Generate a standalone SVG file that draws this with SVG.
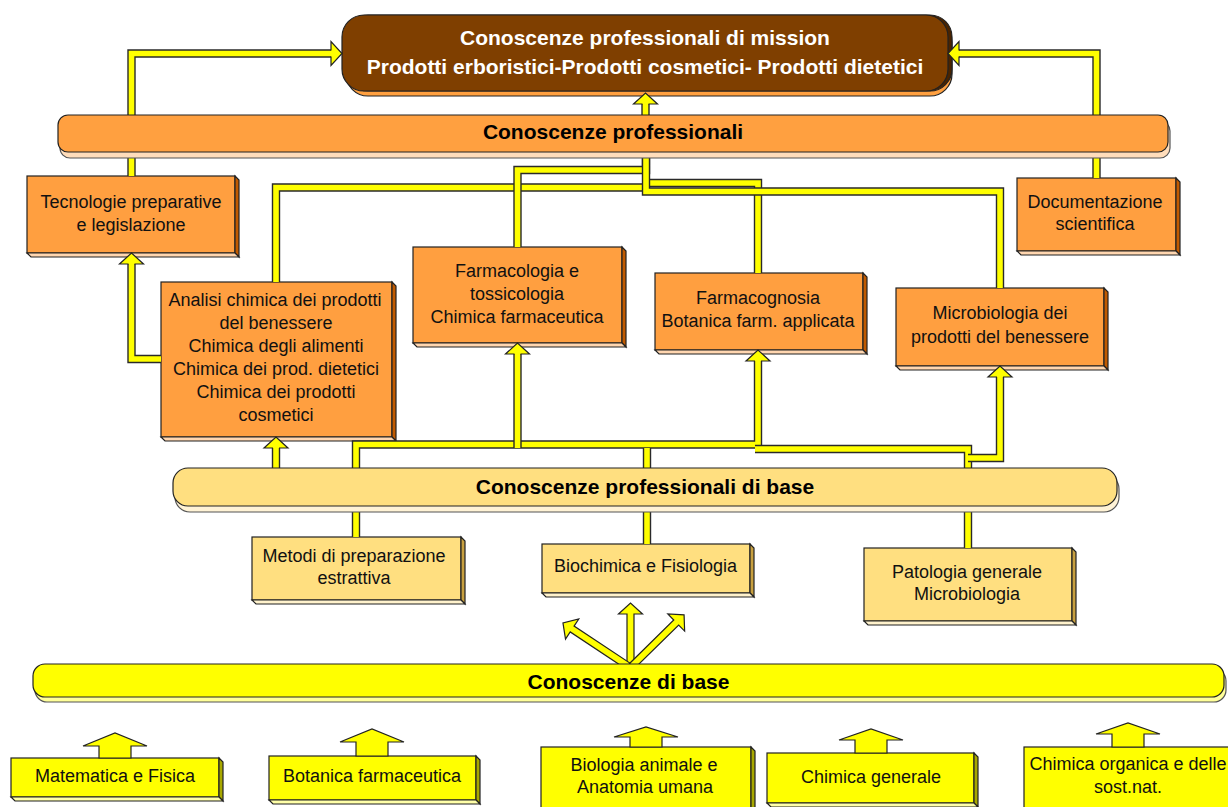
<svg xmlns="http://www.w3.org/2000/svg" width="1228" height="807" viewBox="0 0 1228 807">
<style>
.t{font-family:"Liberation Sans",Arial,sans-serif;font-size:18px;fill:#111;text-anchor:middle}
.tb{font-family:"Liberation Sans",Arial,sans-serif;font-size:21px;font-weight:bold;fill:#000;text-anchor:middle}
.tw{font-family:"Liberation Sans",Arial,sans-serif;font-size:21px;font-weight:bold;fill:#fff;text-anchor:middle}
.s{stroke:#222;stroke-width:1.2}
.of{fill:#FF9F40}.os{fill:#C05A00}.ob{fill:#FFD6B0}
.lf{fill:#FFDF80}.ls{fill:#C8A040}.lb{fill:#FFF2CC}
.yf{fill:#FFFF00}.ys{fill:#A8A800}.yb{fill:#FFFFA8}
.po{fill:none;stroke:#2a2a2a;stroke-width:8.4}
.pi{fill:none;stroke:#FFFF00;stroke-width:5.6}
.hd{fill:#FFFF00;stroke:#222;stroke-width:1.2}
</style>
<defs>
<path id="hu" d="M-3,11 H-12 L0,0 L12,11 H3"/>
<path id="c1" d="M131.5,176 V53.5 H331"/>
<path id="c2" d="M1096.5,178 V53.5 H959"/>
<path id="c3" d="M645.5,115 V104"/>
<path id="c5" d="M276,282 V187.5 H646"/>
<path id="c4" d="M517.5,247 V170 H646 V150"/>
<path id="c6" d="M646,183 H758 V273"/>
<path id="c7" d="M646,150 V191.5 H1000 V288"/>
<path id="c8" d="M161,359 H131.5 V264"/>
<path id="c9" d="M276,468 V448"/>
<path id="l1" d="M356,537 V444.5 H758 V361"/>
<path id="l2" d="M517.5,448 V354"/>
<path id="l3" d="M647,544 V448"/>
<path id="l4" d="M968,548 V449 H755"/>
<path id="l5" d="M968,458 H1000 V377"/>
</defs>

<!-- nodes -->
<g id="n-mission">
<rect x="346" y="20" width="606" height="76" rx="22" fill="#FFA040" class="s"/>
<rect x="346" y="15" width="606" height="76" rx="22" fill="#4A2400" class="s"/>
<rect x="342" y="15" width="606" height="76" rx="22" fill="#7F3F00" class="s"/>
<text class="tw" x="645" y="44.5">Conoscenze professionali di mission</text>
<text class="tw" x="645" y="73.5">Prodotti erboristici-Prodotti cosmetici- Prodotti dietetici</text>
</g>

<g id="n-tecnologie">
<rect class="of s" x="27" y="176" width="208" height="77"/>
<polygon class="os s" points="235,176 239,180 239,257 235,253"/>
<polygon class="ob s" points="27,253 235,253 239,257 31,257"/>
<text class="t" x="131" y="208">Tecnologie preparative</text>
<text class="t" x="131" y="231">e legislazione</text>
</g>

<g id="n-analisi">
<rect class="of s" x="161" y="282" width="231" height="155"/>
<polygon class="os s" points="392,282 396,286 396,441 392,437"/>
<polygon class="ob s" points="161,437 392,437 396,441 165,441"/>
<text class="t" x="275" y="305.5">Analisi chimica dei prodotti</text>
<text class="t" x="276" y="328.5">del benessere</text>
<text class="t" x="276" y="352">Chimica degli alimenti</text>
<text class="t" x="276" y="375">Chimica dei prod. dietetici</text>
<text class="t" x="276" y="398">Chimica dei prodotti</text>
<text class="t" x="276" y="421">cosmetici</text>
</g>

<g id="n-farmacologia">
<rect class="of s" x="413" y="247" width="209" height="96"/>
<polygon class="os s" points="622,247 626,251 626,347 622,343"/>
<polygon class="ob s" points="413,343 622,343 626,347 417,347"/>
<text class="t" x="517" y="277">Farmacologia e</text>
<text class="t" x="517" y="300">tossicologia</text>
<text class="t" x="517" y="323">Chimica farmaceutica</text>
</g>

<g id="n-farmacognosia">
<rect class="of s" x="655" y="273" width="208" height="77"/>
<polygon class="os s" points="863,273 867,277 867,354 863,350"/>
<polygon class="ob s" points="655,350 863,350 867,354 659,354"/>
<text class="t" x="758" y="304">Farmacognosia</text>
<text class="t" x="758" y="327">Botanica farm. applicata</text>
</g>

<g id="n-microbiologia">
<rect class="of s" x="896" y="288" width="208" height="78"/>
<polygon class="os s" points="1104,288 1108,292 1108,370 1104,366"/>
<polygon class="ob s" points="896,366 1104,366 1108,370 900,370"/>
<text class="t" x="1000" y="319">Microbiologia dei</text>
<text class="t" x="1000" y="343">prodotti del benessere</text>
</g>

<g id="n-documentazione">
<rect class="of s" x="1017" y="178" width="159" height="73"/>
<polygon class="os s" points="1176,178 1180,182 1180,255 1176,251"/>
<polygon class="ob s" points="1017,251 1176,251 1180,255 1021,255"/>
<text class="t" x="1095" y="208">Documentazione</text>
<text class="t" x="1095" y="230">scientifica</text>
</g>

<g id="n-metodi">
<rect class="lf s" x="252" y="537" width="209" height="63"/>
<polygon class="ls s" points="461,537 465,541 465,604 461,600"/>
<polygon class="lb s" points="252,600 461,600 465,604 256,604"/>
<text class="t" x="354" y="562">Metodi di preparazione</text>
<text class="t" x="354" y="584">estrattiva</text>
</g>

<g id="n-biochimica">
<rect class="lf s" x="542" y="544" width="208" height="49"/>
<polygon class="ls s" points="750,544 754,548 754,597 750,593"/>
<polygon class="lb s" points="542,593 750,593 754,597 546,597"/>
<text class="t" x="645.5" y="572">Biochimica e Fisiologia</text>
</g>

<g id="n-patologia">
<rect class="lf s" x="864" y="548" width="208" height="73"/>
<polygon class="ls s" points="1072,548 1076,552 1076,625 1072,621"/>
<polygon class="lb s" points="864,621 1072,621 1076,625 868,625"/>
<text class="t" x="967" y="578">Patologia generale</text>
<text class="t" x="967" y="600">Microbiologia</text>
</g>

<g id="n-matematica">
<rect class="yf s" x="11" y="758" width="208" height="39"/>
<polygon class="ys s" points="219,758 223,762 223,801 219,797"/>
<polygon class="yb s" points="11,797 219,797 223,801 15,801"/>
<text class="t" x="115" y="782">Matematica e Fisica</text>
</g>

<g id="n-botanica">
<rect class="yf s" x="269" y="756" width="207" height="44"/>
<polygon class="ys s" points="476,756 480,760 480,804 476,800"/>
<polygon class="yb s" points="269,800 476,800 480,804 273,804"/>
<text class="t" x="372" y="782">Botanica farmaceutica</text>
</g>

<g id="n-biologia">
<rect class="yf s" x="541" y="747" width="210" height="64"/>
<polygon class="ys s" points="751,747 755,751 755,815 751,811"/>
<text class="t" x="644" y="771">Biologia animale e</text>
<text class="t" x="645" y="793">Anatomia umana</text>
</g>

<g id="n-chimgen">
<rect class="yf s" x="767" y="753" width="207" height="50"/>
<polygon class="ys s" points="974,753 978,757 978,807 974,803"/>
<polygon class="yb s" points="767,803 974,803 978,807 771,807"/>
<text class="t" x="871" y="783">Chimica generale</text>
</g>

<g id="n-chimorg">
<rect class="yf s" x="1024" y="747" width="210" height="64"/>
<text class="t" x="1128" y="770">Chimica organica e delle</text>
<text class="t" x="1128" y="793">sost.nat.</text>
</g>

<!-- connectors -->
<g id="connectors">
<use href="#c1" class="po"/><use href="#c1" class="pi"/>
<use href="#hu" class="hd" transform="translate(342,53.5) rotate(90)"/>
<use href="#c2" class="po"/><use href="#c2" class="pi"/>
<use href="#hu" class="hd" transform="translate(948,53.5) rotate(-90)"/>
<use href="#c3" class="po"/><use href="#c3" class="pi"/>
<use href="#hu" class="hd" transform="translate(645.5,93)"/>
<use href="#c5" class="po"/><use href="#c5" class="pi"/>
<use href="#c4" class="po"/><use href="#c4" class="pi"/>
<use href="#c6" class="po"/><use href="#c6" class="pi"/>
<use href="#c7" class="po"/><use href="#c7" class="pi"/>
<use href="#c8" class="po"/><use href="#c8" class="pi"/>
<use href="#hu" class="hd" transform="translate(131.5,253)"/>
<use href="#c9" class="po"/><use href="#c9" class="pi"/>
<use href="#hu" class="hd" transform="translate(276,437)"/>
<use href="#l1" class="po"/><use href="#l1" class="pi"/>
<use href="#hu" class="hd" transform="translate(758,350)"/>
<use href="#l2" class="po"/><use href="#l2" class="pi"/>
<use href="#hu" class="hd" transform="translate(517.5,343)"/>
<use href="#l3" class="po"/><use href="#l3" class="pi"/>
<use href="#l4" class="po"/><use href="#l4" class="pi"/>
<use href="#l5" class="po"/><use href="#l5" class="pi"/>
<use href="#hu" class="hd" transform="translate(1000,366)"/>
<!-- fan arrows -->
<path class="hd" d="M627,667 V614 H618.5 L630.5,603 L642.5,614 H634 V667 Z"/>
<path class="hd" transform="translate(628,666) rotate(-56.5)" d="M-3.5,0 V-67 H-12 L0,-78 L12,-67 H3.5 V0 Z"/>
<path class="hd" transform="translate(632,666) rotate(45.5)" d="M-3.5,0 V-62 H-12 L0,-73 L12,-62 H3.5 V0 Z"/>
<!-- wide up arrows -->
<polygon class="hd" points="83,746 115,733 147,746 131,746 131,758 99,758 99,746"/>
<polygon class="hd" points="340,742 372,729 404,742 388,742 388,756 356,756 356,742"/>
<polygon class="hd" points="614,737 646,727 678,737 662,737 662,747 630,747 630,737"/>
<polygon class="hd" points="839,740 871,729 903,740 887,740 887,753 855,753 855,740"/>
<polygon class="hd" points="1096,734 1128,723 1160,734 1144,734 1144,747 1112,747 1112,734"/>
</g>

<!-- bands -->
<g id="n-conoscenze-professionali">
<rect x="60" y="121" width="1110" height="37" rx="10" fill="#FFDDBB" stroke="#555" stroke-width="1.2"/>
<rect x="58" y="115" width="1110" height="37" rx="10" fill="#FFA040" class="s"/>
<text class="tb" x="613" y="138.5">Conoscenze professionali</text>
</g>
<g id="n-conoscenze-base-prof">
<rect x="175" y="474" width="944" height="38" rx="15" fill="#FFF3D6" stroke="#555" stroke-width="1.2"/>
<rect x="173" y="468" width="944" height="38" rx="15" fill="#FFDF80" class="s"/>
<text class="tb" x="645" y="493.5">Conoscenze professionali di base</text>
</g>
<g id="n-conoscenze-base">
<rect x="35" y="669" width="1191" height="33" rx="12" fill="#FFFF99" stroke="#555" stroke-width="1.2"/>
<rect x="33" y="664" width="1191" height="33" rx="12" fill="#FFFF00" class="s"/>
<text class="tb" x="628.5" y="688.5">Conoscenze di base</text>
</g>
</svg>
